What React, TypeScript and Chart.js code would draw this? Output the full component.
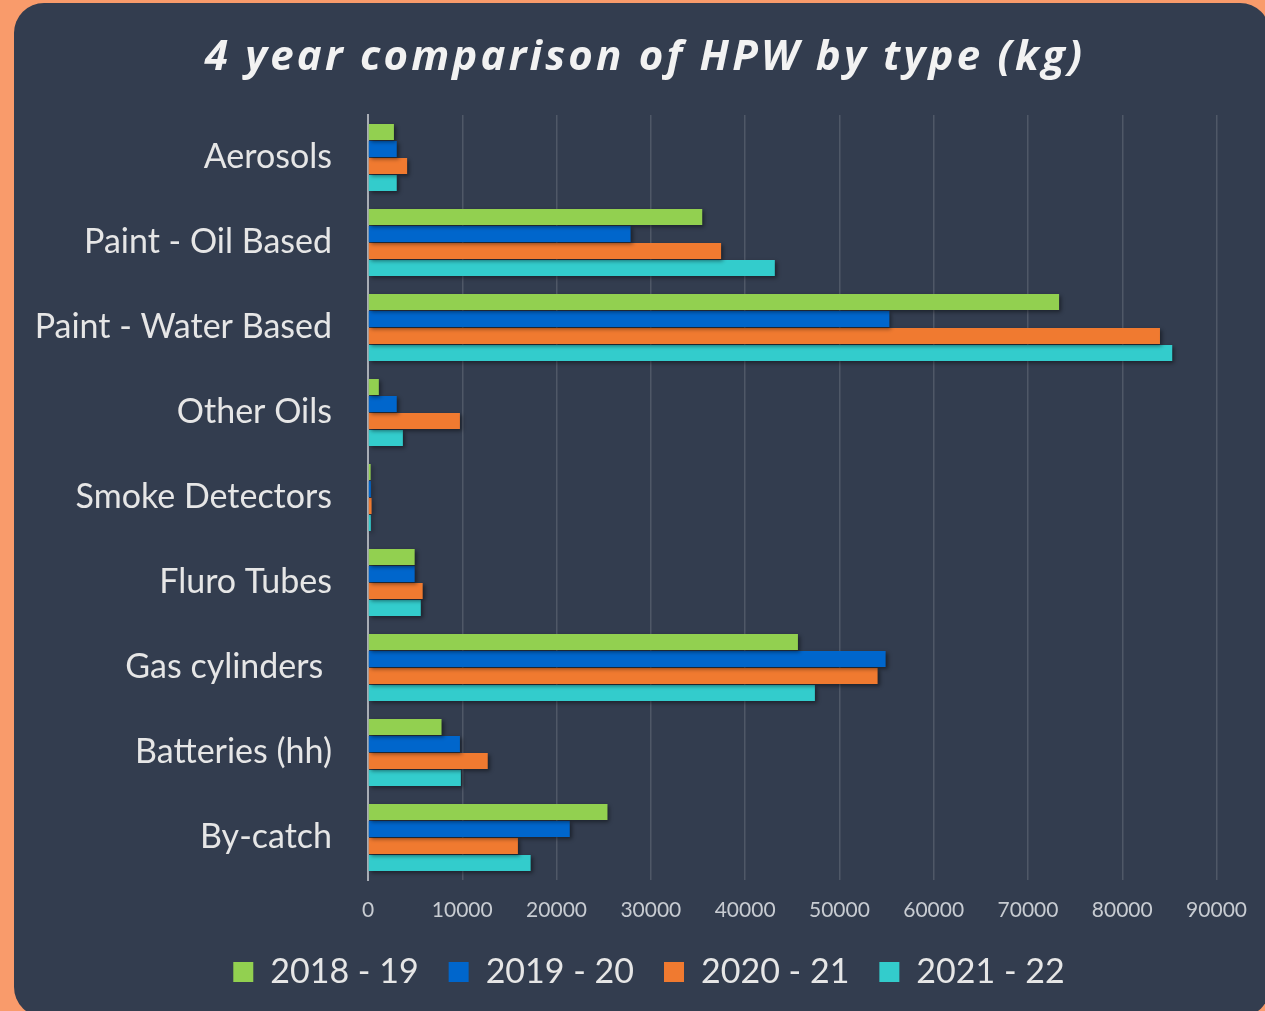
import React, { useEffect, useRef } from "react";
import { Chart, registerables } from "chart.js";

Chart.register(...registerables);

const categories = [
  "Aerosols",
  "Paint - Oil Based",
  "Paint - Water Based",
  "Other Oils",
  "Smoke Detectors",
  "Fluro Tubes",
  "Gas cylinders ",
  "Batteries (hh)",
  "By-catch",
];
const seriesLabels = ["2018 - 19", "2019 - 20", "2020 - 21", "2021 - 22"];
const values2018 = [2750, 35450, 73300, 1150, 280, 4950, 45600, 7800, 25400];
const values2019 = [3050, 27850, 55300, 3050, 300, 4950, 54900, 9750, 21400];
const values2020 = [4150, 37450, 84000, 9750, 380, 5800, 54050, 12700, 15900];
const values2021 = [3050, 43150, 85300, 3700, 300, 5600, 47400, 9850, 17250];
const xTicks = [0, 10000, 20000, 30000, 40000, 50000, 60000, 70000, 80000, 90000];
const colors = ["#92D050", "#0066CC", "#F07A30", "#33CCCC"];
const title = "4 year comparison of HPW by type (kg)";

const shadowPlugin = {
  id: "barShadow",
  beforeDatasetsDraw(chart: any) {
    const ctx = chart.ctx;
    ctx.save();
    ctx.shadowColor = "rgba(0,0,0,0.45)";
    ctx.shadowBlur = 4;
    ctx.shadowOffsetX = 2;
    ctx.shadowOffsetY = 2;
  },
  afterDatasetsDraw(chart: any) {
    chart.ctx.restore();
  },
};

const titlePlugin = {
  id: "spacedTitle",
  afterDraw(chart: any) {
    const ctx = chart.ctx;
    ctx.save();
    ctx.font = "italic bold 42px 'Open Sans'";
    ctx.fillStyle = "#F2F2F2";
    ctx.textAlign = "center";
    ctx.textBaseline = "alphabetic";
    (ctx as any).letterSpacing = "3.2px";
    ctx.fillText(title, 645, 70);
    ctx.restore();
  },
};

const legendShiftPlugin = {
  id: "legendShift",
  afterLayout(chart: any) {
    const lg = chart.legend;
    if (lg) {
      lg.left += 40;
      lg.right += 40;
    }
  },
};

export default function App() {
  const ref = useRef<HTMLCanvasElement>(null);
  useEffect(() => {
    const all = [values2018, values2019, values2020, values2021];
    const chart = new Chart(ref.current!, {
      type: "bar",
      data: {
        labels: categories,
        datasets: seriesLabels.map((l, i) => ({
          label: l,
          data: all[i],
          backgroundColor: colors[i],
          borderWidth: 0,
          categoryPercentage: 0.8,
          barPercentage: 0.94,
        })),
      },
      options: {
        indexAxis: "y",
        animation: false,
        responsive: false,
        layout: { padding: { left: 0, right: 47, top: 115, bottom: 12 } },
        plugins: {
          title: { display: false },
          legend: {
            position: "bottom",
            labels: {
              color: "#E6E6E6",
              font: { family: "Lato", size: 34 },
              boxWidth: 20,
              boxHeight: 20,
              padding: 30,
            },
          },
          tooltip: { enabled: false },
        },
        scales: {
          x: {
            min: 0,
            max: 90000,
            afterBuildTicks: (s: any) => {
              s.ticks = xTicks.map((v) => ({ value: v }));
            },
            afterFit: (s: any) => {
              s.height = 45;
            },
            ticks: {
              color: "#C8CCD2",
              font: { family: "Lato", size: 21 },
              padding: 18,
              maxRotation: 0,
              autoSkip: false,
              callback: (v: any) => String(v),
            },
            grid: {
              color: "rgba(255,255,255,0.14)",
              lineWidth: 1.5,
              drawTicks: false,
            },
            border: { display: false },
          },
          y: {
            afterFit: (s: any) => {
              s.width = 368;
            },
            ticks: {
              color: "#E6E6E6",
              font: { family: "Lato", size: 34 },
              padding: 36,
            },
            grid: { display: false, drawTicks: false },
            border: { display: true, color: "#A8ADB5", width: 2 },
          },
        },
      },
      plugins: [shadowPlugin, titlePlugin, legendShiftPlugin],
    });
    return () => chart.destroy();
  }, []);
  return (
    <div style={{ position: "fixed", left: 0, top: 0, width: 1265, height: 1011, background: "#F99B6B", overflow: "hidden" }}>
      <div style={{ position: "absolute", left: 14, top: 3, width: 1256, height: 1014, borderRadius: 30, background: "#333D4F" }} />
      <canvas ref={ref} width={1265} height={1011} style={{ position: "absolute", left: 0, top: 0 }} />
    </div>
  );
}
